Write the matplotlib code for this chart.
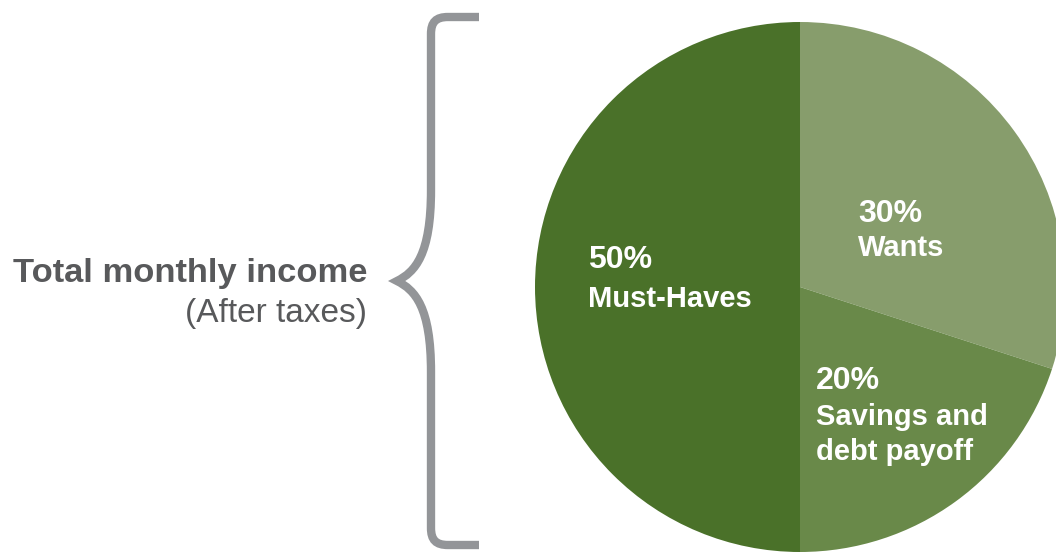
import matplotlib
matplotlib.use("Agg")
import matplotlib.pyplot as plt
from matplotlib.path import Path
from matplotlib.patches import PathPatch

# Data
categories = ["Wants", "Savings and\ndebt payoff", "Must-Haves"]
shares = [30, 20, 50]
pct_labels = ["30%", "20%", "50%"]
colors = ["#879d6c", "#698949", "#4a7129"]

title_main = "Total monthly income"
title_sub = "(After taxes)"

W, H = 1056, 555
fig = plt.figure(figsize=(W / 100, H / 100), dpi=100)
ax = fig.add_axes([0, 0, 1, 1])
ax.set_xlim(0, W)
ax.set_ylim(0, H)
ax.set_aspect("equal")
ax.axis("off")

def Y(y):
    return H - y

# Pie
cx, cy, r = 800, 287, 265
wedges, _ = ax.pie(shares, colors=colors, startangle=90, counterclock=False,
                   center=(cx, Y(cy)), radius=r,
                   wedgeprops=dict(linewidth=0, antialiased=True))
ax.set_xlim(0, W)
ax.set_ylim(0, H)

font = "Liberation Sans"
lab_fs = 21
pct_fs = 23
# label anchors (left x, baselines)
label_pos = {
    0: (858, [222, 256]),
    1: (816, [389, 425, 460]),
    2: (588, [268, 307]),
}
for i, (x, bases) in label_pos.items():
    lines = [pct_labels[i]] + categories[i].split("\n")
    for k, (line, b) in enumerate(zip(lines, bases)):
        ax.text(x, Y(b), line, color="white",
                fontsize=pct_fs if k == 0 else lab_fs, fontweight="bold",
                family=font, ha="left", va="baseline")

# Left text
gray_txt = "#58595b"
ax.text(367, Y(282), title_main, color=gray_txt, fontsize=24.8, fontweight="bold",
        family=font, ha="right", va="baseline")
ax.text(367, Y(322), title_sub, color=gray_txt, fontsize=24, family=font,
        ha="right", va="baseline")

# Brace
verts = [
    (479, 17), (448, 17),
    (436, 17), (431, 22), (431, 34),
    (431, 190),
    (431, 255), (415, 272), (397, 281),
    (415, 290), (431, 307), (431, 372),
    (431, 528),
    (431, 540), (436, 545), (448, 545),
    (479, 545),
]
codes = [Path.MOVETO, Path.LINETO,
         Path.CURVE4, Path.CURVE4, Path.CURVE4,
         Path.LINETO,
         Path.CURVE4, Path.CURVE4, Path.CURVE4,
         Path.CURVE4, Path.CURVE4, Path.CURVE4,
         Path.LINETO,
         Path.CURVE4, Path.CURVE4, Path.CURVE4,
         Path.LINETO]
verts = [(x, Y(y)) for x, y in verts]
brace = PathPatch(Path(verts, codes), facecolor="none", edgecolor="#939598",
                  linewidth=6, joinstyle="miter", capstyle="butt")
ax.add_patch(brace)

fig.savefig("out.png", dpi=100)
